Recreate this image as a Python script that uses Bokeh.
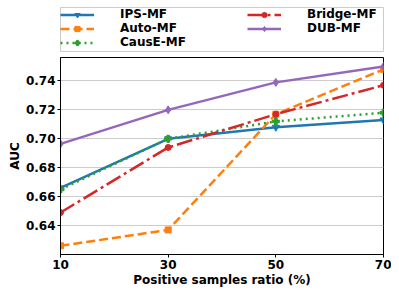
from bokeh.plotting import figure
from bokeh.layouts import column
from bokeh.models import Legend, LegendItem, FixedTicker, NumeralTickFormatter, Range1d
from bokeh.embed import file_html
from bokeh.resources import INLINE

ratios = [10, 30, 50, 70]
ips_mf = [0.666, 0.700, 0.708, 0.713]
auto_mf = [0.626, 0.637, 0.717, 0.748]
cause_mf = [0.665, 0.700, 0.712, 0.718]
bridge_mf = [0.649, 0.694, 0.717, 0.737]
dub_mf = [0.6965, 0.720, 0.739, 0.750]
y_ticks = [0.64, 0.66, 0.68, 0.70, 0.72, 0.74]
x_ticks = [10, 30, 50, 70]

FONT = "DejaVu Sans"

series = [
    ("IPS-MF", ips_mf, "#1f77b4", "solid", "inverted_triangle", 7),
    ("Auto-MF", auto_mf, "#ff7f0e", "9 4", "square", 6),
    ("CausE-MF", cause_mf, "#2ca02c", "2 4", "plus", 7),
    ("Bridge-MF", bridge_mf, "#d62728", "16 4 3 4", "circle", 6),
    ("DUB-MF", dub_mf, "#9467bd", "solid", "diamond", 8),
]

# ---- main chart ----
p = figure(width=391, height=237, output_backend="svg", toolbar_location=None,
           x_range=Range1d(10, 70), y_range=Range1d(0.620, 0.7562),
           min_border_left=59, min_border_right=8, min_border_top=5, min_border_bottom=0)

for name, vals, col, dash, marker, size in series:
    p.line(ratios, vals, line_color=col, line_width=2.5, line_dash=dash)
    p.scatter(ratios, vals, marker=marker, size=size, fill_color=col, line_color=col)

p.xaxis.ticker = FixedTicker(ticks=x_ticks)
p.yaxis.ticker = FixedTicker(ticks=y_ticks)
p.yaxis.formatter = NumeralTickFormatter(format="0.00")
p.xaxis.axis_label = "Positive samples ratio (%)"
p.yaxis.axis_label = "AUC"
for ax in (p.xaxis, p.yaxis):
    ax.axis_label_text_font = FONT
    ax.axis_label_text_font_style = "bold"
    ax.axis_label_text_font_size = "12px"
    ax.major_label_text_font = FONT
    ax.major_label_text_font_style = "bold"
    ax.major_label_text_font_size = "12px"
    ax.major_label_text_color = "black"
    ax.axis_label_text_color = "black"
    ax.major_tick_in = 0
    ax.major_tick_out = 3
    ax.minor_tick_out = 0
    ax.minor_tick_in = 0
    ax.axis_line_color = "black"
    ax.major_tick_line_color = "black"
    ax.major_label_standoff = 2
    ax.axis_label_standoff = 1

p.xgrid.grid_line_color = None
p.ygrid.grid_line_color = "#cccccc"
p.ygrid.grid_line_width = 1.2
p.outline_line_color = "black"
p.outline_line_alpha = 1
p.outline_line_width = 1

# ---- legend strip (its frame outline is the legend box) ----
lg = figure(width=391, height=52, output_backend="svg", toolbar_location=None,
            x_axis_type=None, y_axis_type=None,
            x_range=Range1d(0, 1), y_range=Range1d(0, 1),
            min_border_left=60, min_border_right=8, min_border_top=7, min_border_bottom=0)
lg.grid.grid_line_color = None
lg.outline_line_color = "#cccccc"
lg.outline_line_width = 1

items = {}
for name, vals, col, dash, marker, size in series:
    # proxies: same series, drawn outside this strip's view; only their legend glyphs show
    r1 = lg.line(ratios, vals, line_color=col, line_width=2.5, line_dash=dash)
    r2 = lg.scatter(ratios, vals, marker=marker, size=size, fill_color=col, line_color=col)
    items[name] = LegendItem(label=name, renderers=[r1, r2])

order = ["IPS-MF", "Auto-MF", "CausE-MF", "Bridge-MF", "DUB-MF"]
legend = Legend(items=[items[n] for n in order], ncols=2, orientation="vertical",
                location="top_left", margin=0, padding=3, spacing=0,
                glyph_width=34, glyph_height=13, label_height=13,
                label_standoff=26, label_width=127,
                label_text_font=FONT, label_text_font_style="bold", label_text_font_size="12px",
                label_text_color="black",
                border_line_color=None, background_fill_alpha=0)
lg.add_layout(legend, "center")

layout = column(lg, p, spacing=0)
open("out.html", "w").write(file_html(layout, INLINE))
